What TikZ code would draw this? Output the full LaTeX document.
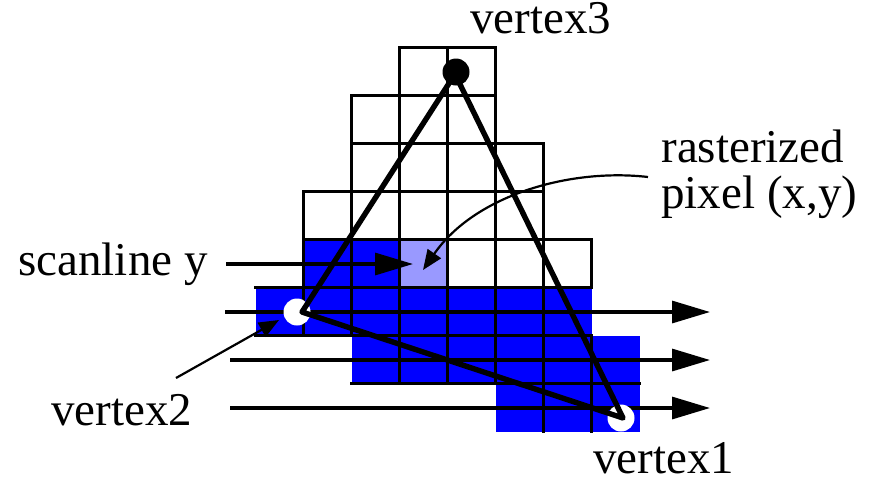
\documentclass[tikz,border=0pt]{standalone}
\usepackage{fontspec}
\setmainfont{Liberation Serif}
\usetikzlibrary{arrows.meta}

\definecolor{pixblue}{RGB}{0,0,255}
\definecolor{pixlight}{RGB}{153,153,255}

\begin{document}
\begin{tikzpicture}[
    x=0.5pt, y=-0.5pt,
    grid_line/.style={line width=1.8pt, line cap=rect},
    edge_line/.style={line width=2.7pt, line cap=round, line join=round},
    scan_arrow/.style={-{Triangle[length=19pt, width=11pt]}, line width=1.6pt},
    pointer/.style={-{Triangle[length=10pt, width=8pt]}, line width=1.1pt},
    label_style/.style={font=\fontsize{23.5}{28}\selectfont, inner sep=0pt, anchor=base west, text height=0.7em, text depth=0.22em}
]
\useasboundingbox (0,0) rectangle (878,478);

\fill[pixblue] (303.5,239.5) rectangle (399.5,287.5);
\fill[pixlight] (399.5,239.5) rectangle (447.5,287.5);
\fill[pixblue] (255.5,287.5) rectangle (591.5,335.5);
\fill[pixblue] (351.5,335.5) rectangle (639.5,383.5);
\fill[pixblue] (495.5,383.5) rectangle (639.5,431.5);

\draw[grid_line] (399.5,47.5) -- (495.5,47.5);
\draw[grid_line] (351.5,95.5) -- (495.5,95.5);
\draw[grid_line] (351.5,143.5) -- (543.5,143.5);
\draw[grid_line] (303.5,191.5) -- (543.5,191.5);
\draw[grid_line] (303.5,239.5) -- (591.5,239.5);
\draw[grid_line] (255.5,287.5) -- (591.5,287.5);
\draw[grid_line] (255.5,335.5) -- (591.5,335.5);
\draw[grid_line] (351.5,383.5) -- (639.5,383.5);

\draw[grid_line] (303.5,191.5) -- (303.5,335.5);
\draw[grid_line] (351.5,95.5) -- (351.5,335.5);
\foreach \gx in {399.5,447.5,495.5}
    \draw[grid_line] (\gx,47.5) -- (\gx,383.5);
\draw[grid_line] (543.5,143.5) -- (543.5,431.5);
\draw[grid_line] (591.5,239.5) -- (591.5,287.5);
\draw[grid_line] (591.5,335.5) -- (591.5,431.5);

\node[label_style] (scan_label) at (18,275) {scanline y};
\node[label_style] (raster_label) at (661,162) {rasterized};
\node[label_style] (pixel_label) at (661,208) {pixel (x,y)};
\node[label_style] (v3_label) at (470,33) {vertex3};
\node[label_style] (v2_label) at (51,425) {vertex2};
\node[label_style, text depth=0pt] (v1_label) at (593,473) {vertex1};

\coordinate (scan_a) at (226,264);
\coordinate (scan_a_end) at (413,264);
\coordinate (scan_b) at (225,312);
\coordinate (scan_b_end) at (710,312);
\coordinate (scan_c) at (230,360);
\coordinate (scan_c_end) at (710,360);
\coordinate (scan_d) at (230,408);
\coordinate (scan_d_end) at (710,408);

\draw[scan_arrow] (scan_a) -- (scan_a_end);
\draw[scan_arrow] (scan_b) -- (scan_b_end);
\draw[scan_arrow] (scan_c) -- (scan_c_end);
\draw[scan_arrow] (scan_d) -- (scan_d_end);

\node[circle, fill=black, minimum size=13.5pt, inner sep=0pt] (v3_dot) at (456,72) {};
\node[circle, fill=white, minimum size=13.5pt, inner sep=0pt] (v2_dot) at (297,312) {};
\node[circle, fill=white, minimum size=13.5pt, inner sep=0pt] (v1_dot) at (621,418) {};

\coordinate (v3) at (455,74);
\coordinate (v2) at (302,312);
\coordinate (v1) at (623,418);
\draw[edge_line] (v3) -- (v2) -- (v1) -- cycle;

\coordinate (raster_start) at (648,177);
\coordinate (raster_tip) at (423,270);
\draw[pointer] (raster_start) .. controls (570,168) and (475,195) .. (raster_tip);

\coordinate (v2_start) at (176,378);
\coordinate (v2_tip) at (279,320);
\draw[pointer] (v2_start) -- (v2_tip);
\end{tikzpicture}
\end{document}
